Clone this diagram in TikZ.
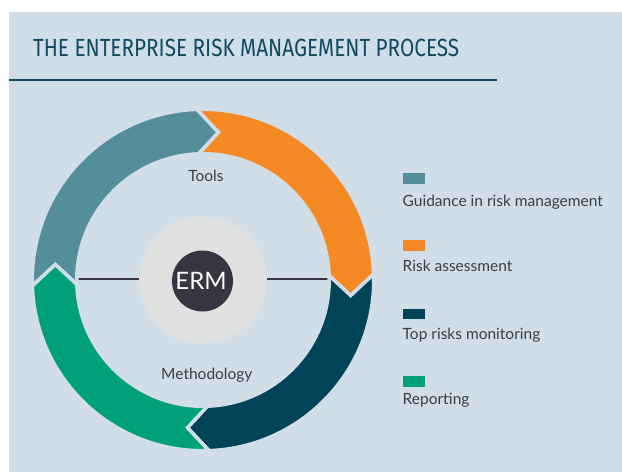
\documentclass[tikz,border=0pt]{standalone}
\usepackage{fontspec}
\usepackage{graphicx}
\setmainfont{Lato}
\newfontfamily\titlefont{Fira Sans}
\usetikzlibrary{calc}
\definecolor{panel}{HTML}{D1DEE7}
\definecolor{cteal}{HTML}{548E9B}
\definecolor{corange}{HTML}{F58A24}
\definecolor{cdark}{HTML}{01445A}
\definecolor{cgreen}{HTML}{00A178}
\definecolor{titlec}{HTML}{0F4A5F}
\definecolor{txt}{HTML}{3B3E46}
\definecolor{hubc}{HTML}{DEE1E0}
\definecolor{ermc}{HTML}{353641}
\tikzset{
  seg/.style={draw=panel, line width=3.5pt, line join=miter},
  lbl/.style={inner sep=0pt, text=txt, font=\fontsize{15.5}{17}\selectfont},
  swatch/.style={minimum width=22.5pt, minimum height=10.5pt, inner sep=0pt, anchor=north west},
  link/.style={draw=ermc, line width=2pt},
}
\newcommand{\ringseg}[2]{%
  \path[seg, fill=#1] ($(c)+(#2:170.75pt)$) arc[start angle=#2, end angle={#2-90}, radius=170.75pt]
    -- ($(c)+({#2-98}:148.5pt)$) -- ($(c)+({#2-90}:126.25pt)$)
    arc[start angle={#2-90}, end angle=#2, radius=126.25pt]
    -- ($(c)+({#2-8}:148.5pt)$) -- cycle;}
\begin{document}
\begin{tikzpicture}[x=1pt,y=1pt]
\useasboundingbox (0,0) rectangle (622,-472);
\fill[panel] (9,-12) rectangle (622,-472);
% title
\node[anchor=base west, inner sep=0pt, text=titlec] (title) at (33,-56.7)
  {\resizebox{426pt}{17.4pt}{\titlefont THE ENTERPRISE RISK MANAGEMENT PROCESS}};
\coordinate (ruleL) at (9,-80);
\coordinate (ruleR) at (497,-80);
\draw[titlec, line width=1.2pt] (ruleL) -- (ruleR);
% centre
\coordinate (c) at (203,-280);
\node[circle, fill=hubc, minimum size=127pt, inner sep=0pt] (hub) at (c) {};
\coordinate (ringL) at (75,-279);
\coordinate (ringR) at (331,-279);
\draw[link] (ringL) -- (ringL -| hub.west);
\draw[link] (ringR) -- (ringR -| hub.east);
% ring
\ringseg{cteal}{182}
\ringseg{corange}{92}
\ringseg{cdark}{2}
\ringseg{cgreen}{-88}
\node[circle, fill=ermc, minimum size=61pt, inner sep=0pt] (erm) at (202.5,-281) {};
\node[anchor=base, inner sep=0pt, text=white, font=\fontsize{24}{26}\selectfont] (ermt) at (201,-289) {ERM};
\node[lbl, anchor=base] (tools) at (206,-181) {Tools};
\node[lbl, anchor=base] (meth) at (206.8,-379.3) {Methodology};
% legend
\node[swatch, fill=cteal] (s1) at (402.5,-173) {};
\node[swatch, fill=corange] (s2) at (402.5,-240) {};
\node[swatch, fill=cdark] (s3) at (402.5,-308.5) {};
\node[swatch, fill=cgreen] (s4) at (402.5,-376) {};
\node[lbl, anchor=base west] (l1) at (402.5,-206.7) {Guidance in risk management};
\node[lbl, anchor=base west] (l2) at (402.5,-271.7) {Risk assessment};
\node[lbl, anchor=base west] (l3) at (402.5,-339) {Top risks monitoring};
\node[lbl, anchor=base west] (l4) at (402.5,-404.5) {Reporting};
\end{tikzpicture}
\end{document}
